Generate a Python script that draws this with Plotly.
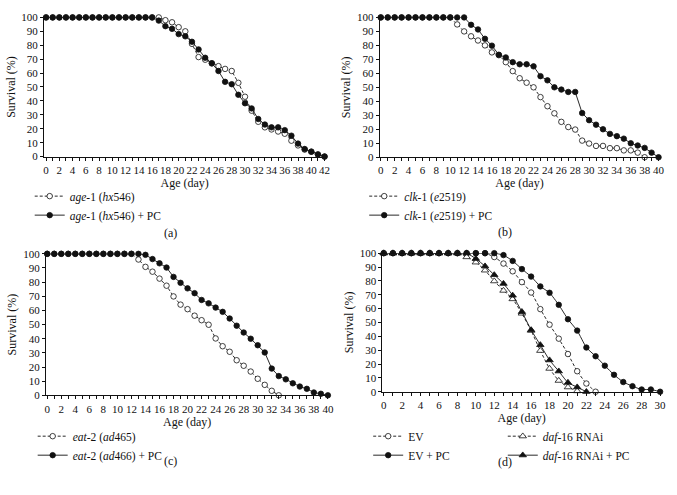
import plotly.graph_objects as go

W, H = 677, 495

# ---------------- data ----------------
age1_days = list(range(0, 43))
age1 = [100]*17 + [100, 98, 96.5, 93, 90, 81, 71.5, 69.6, 67, 65, 63, 61.5, 53, 43, 33,
                   25, 21, 19.5, 18, 16.4, 11.4, 8, 5, 3.5, 1.5, 0]
age1_pc = [100]*17 + [97.7, 93.7, 91.8, 88, 86.4, 82.5, 77, 71, 67, 61.5, 53.7, 52, 44.4,
                      38.3, 34.6, 27, 23, 21, 21, 19, 15, 9.3, 5.4, 3.5, 1.5, 0]

clk1_days = list(range(0, 39))
clk1 = [100]*11 + [95, 90, 86.5, 83.5, 80, 75, 73, 68, 61.6, 56.5, 53.3, 50, 43, 36.5, 31.4,
                   25.3, 21.6, 19.8, 11.9, 9.8, 8.1, 8.1, 6.5, 6.5, 4.9, 4.9, 3.3, 0]
clk1_pc_days = list(range(0, 41))
clk1_pc = [100]*13 + [94.7, 91.4, 84.7, 79.8, 73.3, 71.4, 68, 66.5, 66.5, 65, 58, 55, 50, 48.4,
                      46.7, 46.7, 31.6, 26.5, 23.3, 20, 16.7, 15.1, 13.3, 10, 8.4, 6.7, 3.3, 0]

eat2_days = list(range(0, 34))
eat2 = [100]*13 + [96, 90.8, 87.4, 82.5, 77.5, 69.9, 64.1, 60.9, 56.3, 53.1, 49.9, 40.2, 34.7,
                   30.8, 24.8, 20.9, 16.8, 11.7, 7.4, 3.2, 0]
eat2_pc_days = list(range(0, 41))
eat2_pc = [100]*14 + [99.3, 96.3, 93.3, 90.3, 83.7, 79.5, 75.6, 72.2, 67.4, 65, 62, 59, 54.3,
                      49.2, 44.4, 40, 35.4, 30.3, 18.9, 13.6, 11.3, 8.5, 6.2, 4.6, 2, 1.1, 0]

ev_days = list(range(0, 24))
ev = [100]*12 + [97.2, 92.5, 86.9, 79.1, 71.6, 59.6, 48.4, 38.3, 27.2, 14.8, 5.9, 0]
ev_pc_days = list(range(0, 31))
ev_pc = [100]*13 + [98.6, 94.4, 88.5, 83.1, 76, 71.4, 62.7, 52.3, 44.1, 31.9, 25.6, 18.8, 12.2,
                    7, 4, 1.6, 1.6, 0]
daf_days = list(range(0, 22))
daf = [100]*9 + [97.2, 93.4, 87.6, 79.8, 73, 66.9, 56.5, 44.1, 29.6, 16.7, 8, 3.3, 0.5]
daf_pc_days = list(range(0, 23))
daf_pc = [100]*10 + [96, 90.6, 84.3, 78, 69.5, 57.7, 44.6, 33.8, 22.8, 14.8, 6.6, 3.3, 0]

y_ticks = list(range(0, 101, 10))
panel_labels = ["(a)", "(b)", "(c)", "(d)"]

# ---------------- style ----------------
SERIF = "Liberation Serif"
BLACK = "#111111"

def px_x(a, b):
    return [a / W, b / W]

def px_y(bottom, top):
    return [1 - bottom / H, 1 - top / H]

fig = go.Figure()

def add(x, y, name, ax, leg, open_=False, sym="circle", spline=False):
    n = "" if ax == 1 else str(ax)
    fig.add_trace(go.Scatter(
        x=x, y=y, name=name, mode="lines+markers",
        xaxis="x" + n, yaxis="y" + n, legend=leg,
        line=dict(color=BLACK, width=0.9, dash="3px,2px" if open_ else "solid",
                  shape="spline" if spline else "linear", smoothing=0.5),
        marker=dict(symbol=sym, size=5.5 if sym == "circle" else 6.5,
                    color="white" if open_ else BLACK,
                    line=dict(color=BLACK, width=0.8)),
        cliponaxis=False, showlegend=True,
    ))

add(age1_days, age1, "<i>age</i>-1 (<i>hx</i>546)", 1, "legend", open_=True)
add(age1_days, age1_pc, "<i>age</i>-1 (<i>hx</i>546) + PC", 1, "legend")
add(clk1_days, clk1, "<i>clk</i>-1 (<i>e</i>2519)", 2, "legend2", open_=True)
add(clk1_pc_days, clk1_pc, "<i>clk</i>-1 (<i>e</i>2519) + PC", 2, "legend2")
add(eat2_days, eat2, "<i>eat</i>-2 (<i>ad</i>465)", 3, "legend3", open_=True)
add(eat2_pc_days, eat2_pc, "<i>eat</i>-2 (<i>ad</i>466) + PC", 3, "legend3")
add(ev_days, ev, "EV", 4, "legend4", open_=True, spline=True)
add(ev_pc_days, ev_pc, "EV + PC", 4, "legend4", spline=True)
add(daf_days, daf, "<i>daf</i>-16 RNAi", 4, "legend5", open_=True, sym="triangle-up", spline=True)
add(daf_pc_days, daf_pc, "<i>daf</i>-16 RNAi + PC", 4, "legend5", sym="triangle-up", spline=True)

tickfont = dict(family=SERIF, size=11, color=BLACK)
titlefont = dict(family=SERIF, size=12, color=BLACK)

def xaxis(dom, rng, anchor):
    return dict(domain=dom, range=rng, anchor=anchor, showgrid=False, zeroline=False,
                showline=True, linecolor=BLACK, linewidth=1,
                tickmode="linear", tick0=0, dtick=2, ticks="outside", ticklen=3,
                tickcolor=BLACK, tickwidth=1, tickfont=tickfont, tickangle=0,
                ticklabeloverflow="allow",
                minor=dict(dtick=1, tick0=0, ticks="outside", ticklen=3, tickcolor=BLACK, tickwidth=1),
                title=dict(text="Age (day)", font=titlefont, standoff=0))

def yaxis(dom, anchor):
    return dict(domain=dom, range=[0, 100], anchor=anchor, showgrid=False, zeroline=False,
                showline=True, linecolor=BLACK, linewidth=1,
                tickvals=y_ticks, ticks="outside", ticklen=3, tickcolor=BLACK, tickwidth=1,
                tickfont=tickfont,
                title=dict(text="Survival (%)", font=titlefont, standoff=3))

legfont = dict(family=SERIF, size=11.5, color=BLACK)
labfont = dict(family=SERIF, size=12, color=BLACK)

def legend(xpx, ypx):
    return dict(x=xpx / W, y=1 - ypx / H, xanchor="left", yanchor="top",
                font=legfont, bgcolor="rgba(0,0,0,0)", borderwidth=0,
                tracegroupgap=0, itemwidth=30)

def label(text, xpx, ypx):
    return dict(text=text, x=xpx / W, y=1 - ypx / H, xref="paper", yref="paper",
                xanchor="center", yanchor="middle", showarrow=False, font=labfont)

fig.update_layout(
    width=W, height=H, margin=dict(l=0, r=0, t=0, b=0),
    paper_bgcolor="white", plot_bgcolor="white",
    font=dict(family=SERIF, color=BLACK),
    xaxis=xaxis(px_x(42.5, 326.6), [-0.3, 42.1], "y"),
    yaxis=yaxis(px_y(154.3, 11.7), "x"),
    xaxis2=xaxis(px_x(381.7, 664.1), [-0.15, 40.1], "y2"),
    yaxis2=yaxis(px_y(155, 11.7), "x2"),
    xaxis3=xaxis(px_x(44.3, 330.0), [-0.2, 40.1], "y3"),
    yaxis3=yaxis(px_y(399, 254), "x3"),
    xaxis4=xaxis(px_x(384.3, 665.9), [-0.15, 30.1], "y4"),
    yaxis4=yaxis(px_y(395.3, 253.3), "x4"),
    legend=legend(28, 180),
    legend2=legend(366, 180),
    legend3=legend(31, 426),
    legend4=legend(370, 426),
    legend5=legend(506, 426),
    annotations=[
        label(panel_labels[0], 170, 233),
        label(panel_labels[1], 508, 232),
        label(panel_labels[2], 170, 466),
        label(panel_labels[3], 508, 467),
    ],
)

fig.write_html("out.html", config={"displayModeBar": False},
               post_script="document.body.style.margin='0';")
